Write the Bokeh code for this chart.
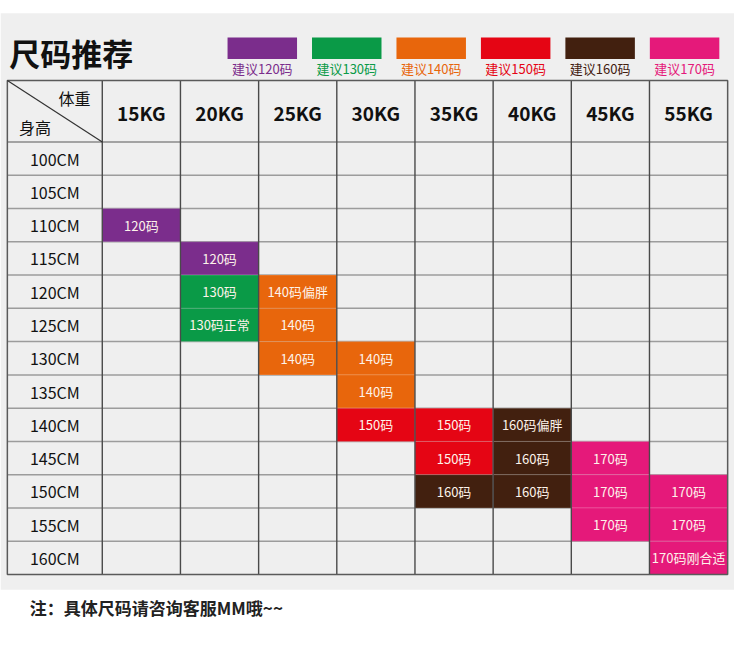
from bokeh.plotting import figure
from bokeh.models import Range1d, ColumnDataSource
from bokeh.core.properties import value
from bokeh.embed import file_html
from bokeh.resources import INLINE

# ---------------- data ----------------
title = "尺码推荐"
note = "注：具体尺码请咨询客服MM哦~~"
corner_top = "体重"
corner_bottom = "身高"

weights = ["15KG", "20KG", "25KG", "30KG", "35KG", "40KG", "45KG", "55KG"]
heights = ["100CM", "105CM", "110CM", "115CM", "120CM", "125CM", "130CM",
           "135CM", "140CM", "145CM", "150CM", "155CM", "160CM"]

legend_sizes = ["120码", "130码", "140码", "150码", "160码", "170码"]
legend_labels = ["建议120码", "建议130码", "建议140码", "建议150码", "建议160码", "建议170码"]
legend_colors = ["#7b2d8c", "#0a9a47", "#e8660c", "#e50514", "#42200f", "#e5197a"]

cell_height = ["110CM", "115CM", "120CM", "120CM", "125CM", "125CM", "130CM", "130CM",
               "135CM", "140CM", "140CM", "140CM", "145CM", "145CM", "145CM",
               "150CM", "150CM", "150CM", "150CM", "155CM", "155CM", "160CM"]
cell_weight = ["15KG", "20KG", "20KG", "25KG", "20KG", "25KG", "25KG", "30KG",
               "30KG", "30KG", "35KG", "40KG", "35KG", "40KG", "45KG",
               "35KG", "40KG", "45KG", "55KG", "45KG", "55KG", "55KG"]
cell_size = ["120码", "120码", "130码", "140码", "130码", "140码", "140码", "140码",
             "140码", "150码", "150码", "160码", "150码", "160码", "170码",
             "160码", "160码", "170码", "170码", "170码", "170码", "170码"]
cell_label = ["120码", "120码", "130码", "140码偏胖", "130码正常", "140码", "140码", "140码",
              "140码", "150码", "150码", "160码偏胖", "150码", "160码", "170码",
              "160码", "160码", "170码", "170码", "170码", "170码", "170码刚合适"]

# ---------------- layout ----------------
W, H = 734, 643
FONT = "Noto Sans CJK SC"
p = figure(width=W, height=H, output_backend="svg", toolbar_location=None,
           x_range=Range1d(0, 750), y_range=Range1d(659, 0),
           min_border=0, min_border_left=0, min_border_right=0,
           min_border_top=0, min_border_bottom=0)
p.axis.visible = False
p.grid.visible = False
p.outline_line_color = None
p.background_fill_color = "white"
p.border_fill_color = "white"

# grey panel
p.quad(left=[0], right=[750], top=[13], bottom=[604], fill_color="#efefef", line_color=None)

# title
p.text(x=[9], y=[53], text=[title], text_font=value(FONT), text_font_size="31px",
       text_font_style="bold", text_color="#111111", text_baseline="middle", text_align="left")

# legend
sw_left0, sw_step, sw_w = 232, 86.3, 71
lx = [sw_left0 + i * sw_step for i in range(len(legend_labels))]
p.quad(left=lx, right=[x + sw_w for x in lx], top=[38] * len(lx), bottom=[60] * len(lx),
       fill_color=legend_colors, line_color=None)
p.text(x=[x + sw_w / 2 for x in lx], y=[69.5] * len(lx), text=legend_labels,
       text_font=value(FONT), text_font_size="13px", text_color=legend_colors,
       text_baseline="middle", text_align="center")

# table geometry
T_left, T_first, T_right = 7, 104, 743
T_top, T_head = 82, 145
row_h = 34.1
col_w = (T_right - T_first) / len(weights)
T_bottom = T_head + row_h * len(heights)

def col_x(i):
    return T_first + i * col_w

def row_y(j):
    return T_head + j * row_h

# coloured cells
ci = [weights.index(w) for w in cell_weight]
rj = [heights.index(h) for h in cell_height]
ccol = [legend_colors[legend_sizes.index(s)] for s in cell_size]
src = ColumnDataSource(dict(
    left=[col_x(i) for i in ci], right=[col_x(i + 1) for i in ci],
    top=[row_y(j) for j in rj], bottom=[row_y(j + 1) for j in rj],
    cx=[col_x(i) + col_w / 2 for i in ci], cy=[row_y(j) + row_h / 2 for j in rj],
    color=ccol, label=cell_label))

# horizontal grid lines (lighter)
hy = [row_y(j) for j in range(1, len(heights))]
p.segment(x0=[T_left] * len(hy), x1=[T_right] * len(hy), y0=hy, y1=hy,
          line_color="#9c9c9c", line_width=1.5)
p.segment(x0=[T_left], x1=[T_right], y0=[T_head], y1=[T_head], line_color="#8a8a8a", line_width=1.5)

p.quad(left="left", right="right", top="top", bottom="bottom", source=src,
       fill_color="color", line_color="white", line_alpha=0.18, line_width=1)

# vertical grid lines (darker)
vx = [col_x(i) for i in range(len(weights))]
p.segment(x0=vx, x1=vx, y0=[T_top] * len(vx), y1=[T_bottom] * len(vx),
          line_color="#4a4a4a", line_width=1.4)

# outer border
p.quad(left=[T_left], right=[T_right], top=[T_top], bottom=[T_bottom],
       fill_color=None, line_color="#5a5a5a", line_width=1.5)

# diagonal corner
p.segment(x0=[T_left], y0=[T_top], x1=[T_first], y1=[T_head], line_color="#333333", line_width=1.2)
p.text(x=[92], y=[100], text=[corner_top], text_font=value(FONT), text_font_size="16px",
       text_color="#111111", text_baseline="middle", text_align="right")
p.text(x=[19], y=[130], text=[corner_bottom], text_font=value(FONT), text_font_size="16px",
       text_color="#111111", text_baseline="middle", text_align="left")

# header labels
p.text(x=[col_x(i) + col_w / 2 for i in range(len(weights))], y=[(T_top + T_head) / 2 + 1] * len(weights),
       text=weights, text_font=value(FONT), text_font_size="19px", text_font_style="bold",
       text_color="#111111", text_baseline="middle", text_align="center")

# row labels
p.text(x=[(T_left + T_first) / 2] * len(heights), y=[row_y(j) + row_h / 2 for j in range(len(heights))],
       text=heights, text_font=value(FONT), text_font_size="16px",
       text_color="#111111", text_baseline="middle", text_align="center")

# cell labels
p.text(x="cx", y="cy", text="label", source=src, text_font=value(FONT), text_font_size="13px",
       text_color="#fdf3ea", text_baseline="middle", text_align="center")

# footnote
p.text(x=[30], y=[622], text=[note], text_font=value(FONT), text_font_size="17px",
       text_font_style="bold", text_color="#222222", text_baseline="middle", text_align="left")

open("out.html", "w").write(file_html(p, INLINE))
